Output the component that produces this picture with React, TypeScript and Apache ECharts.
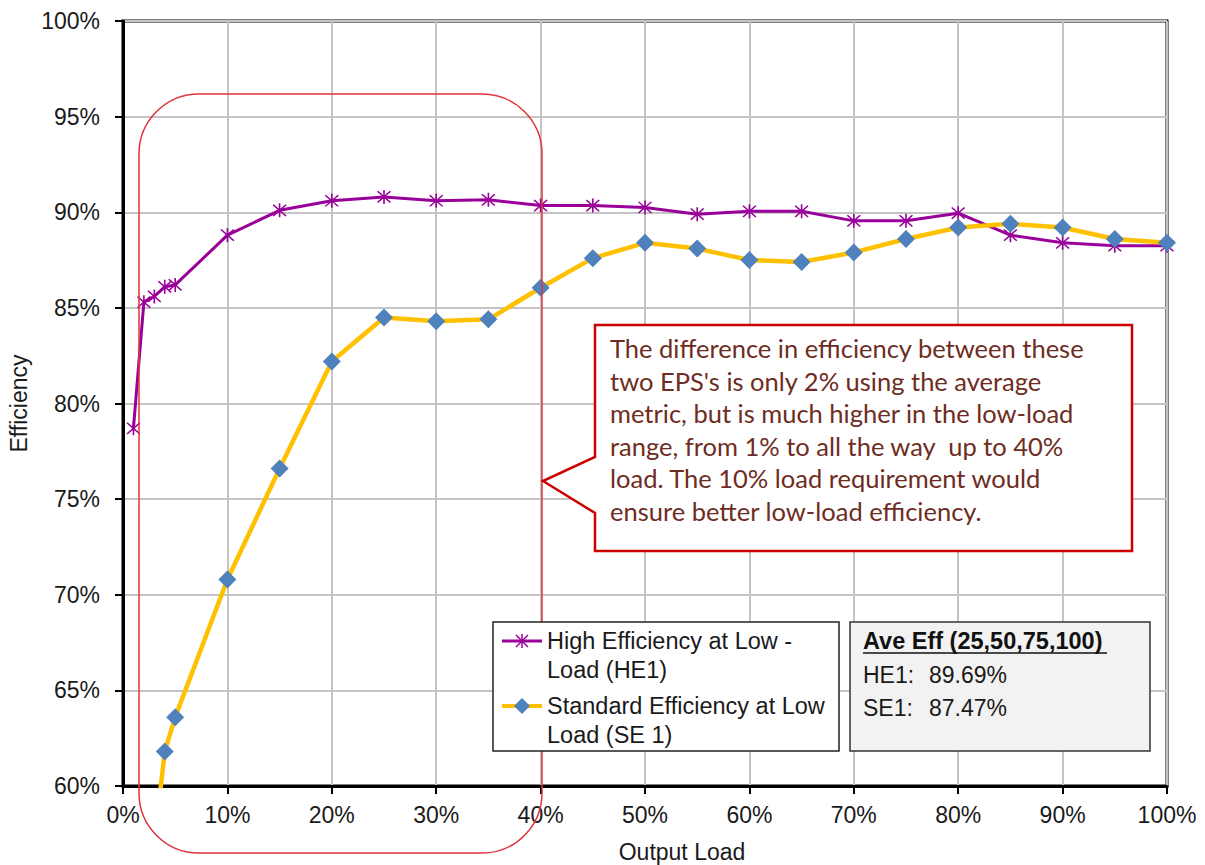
import React, { useEffect, useRef } from "react";
import * as echarts from "echarts";

const heLoad = [1, 2, 3, 4, 5, 10, 15, 20, 25, 30, 35, 40, 45, 50, 55, 60, 65, 70, 75, 80, 85, 90, 95, 100];
const heEff = [78.7, 85.3, 85.6, 86.1, 86.2, 88.8, 90.1, 90.6, 90.8, 90.6, 90.65, 90.35, 90.35, 90.25, 89.9, 90.05, 90.05, 89.55, 89.55, 89.95, 88.8, 88.4, 88.25, 88.25];
const seLoad = [3, 4, 5, 10, 15, 20, 25, 30, 35, 40, 45, 50, 55, 60, 65, 70, 75, 80, 85, 90, 95, 100];
const seEff = [57.0, 61.8, 63.6, 70.8, 76.6, 82.2, 84.5, 84.3, 84.4, 86.05, 87.6, 88.4, 88.1, 87.5, 87.4, 87.9, 88.6, 89.2, 89.4, 89.2, 88.6, 88.4];

const seriesNames = ["High Efficiency at Low-Load (HE1)", "Standard Efficiency at Low Load (SE 1)"];
const legendLines = [
  ["High Efficiency at Low -", "Load (HE1)"],
  ["Standard Efficiency at Low", "Load (SE 1)"],
];
const avgTitle = "Ave Eff (25,50,75,100)";
const avgLabels = ["HE1:", "SE1:"];
const avgValues = ["89.69%", "87.47%"];
const noteLines = [
  "The difference in efficiency between these",
  "two EPS's is only 2% using the average",
  "metric, but is much higher in the low-load",
  "range, from 1% to all the way  up to 40%",
  "load. The 10% load requirement would",
  "ensure better low-load efficiency.",
];

const HE_COLOR = "#990099";
const SE_LINE = "#FFC000";
const SE_MARK = "#4F81BD";
const FONT = "'Liberation Sans', Arial, sans-serif";
const TXT = "#1a1a1a";

const ASTERISK =
  "path://M9,0 L11,0 L11,20 L9,20 Z M1.3,2.7 L2.7,1.3 L18.7,17.3 L17.3,18.7 Z M17.3,1.3 L18.7,2.7 L2.7,18.7 L1.3,17.3 Z";

export default function App() {
  const ref = useRef<HTMLDivElement>(null);
  useEffect(() => {
    if (!ref.current) return;
    const chart = echarts.init(ref.current, undefined, { renderer: "svg" });
    const hePts = heLoad.map((x, i) => [x, heEff[i]]);
    const sePts = seLoad.map((x, i) => [x, seEff[i]]);

    const legendX = 493, legendY = 622;
    const legendRowY = [641, 706];
    const legendGraphics: any[] = [
      { type: "rect", shape: { x: legendX, y: legendY, width: 346, height: 129 }, style: { fill: "#fff", stroke: "#222", lineWidth: 1.5 }, z: 100 },
      { type: "line", shape: { x1: 502, y1: legendRowY[0], x2: 542, y2: legendRowY[0] }, style: { stroke: HE_COLOR, lineWidth: 3 }, z: 101 },
      { type: "line", shape: { x1: 516, y1: legendRowY[0] - 6, x2: 528, y2: legendRowY[0] + 6 }, style: { stroke: HE_COLOR, lineWidth: 1.5 }, z: 102 },
      { type: "line", shape: { x1: 528, y1: legendRowY[0] - 6, x2: 516, y2: legendRowY[0] + 6 }, style: { stroke: HE_COLOR, lineWidth: 1.5 }, z: 102 },
      { type: "line", shape: { x1: 522, y1: legendRowY[0] - 7, x2: 522, y2: legendRowY[0] + 7 }, style: { stroke: HE_COLOR, lineWidth: 1.5 }, z: 102 },
      { type: "line", shape: { x1: 502, y1: legendRowY[1], x2: 542, y2: legendRowY[1] }, style: { stroke: SE_LINE, lineWidth: 4 }, z: 101 },
      { type: "polygon", shape: { points: [[522, legendRowY[1] - 8], [530, legendRowY[1]], [522, legendRowY[1] + 8], [514, legendRowY[1]]] }, style: { fill: SE_MARK }, z: 102 },
    ];
    legendLines.forEach((lines, i) => {
      legendGraphics.push({
        type: "text",
        x: 547,
        y: legendRowY[i] - 15,
        z: 102,
        style: { text: lines.join("\n"), fontFamily: FONT, fontSize: 23.5, lineHeight: 29, fill: TXT },
      });
    });

    const avgGraphics: any[] = [
      { type: "rect", shape: { x: 850, y: 622, width: 300, height: 129 }, style: { fill: "#f2f2f2", stroke: "#333", lineWidth: 1.5 }, z: 100 },
      { type: "text", x: 863, y: 629, z: 101, style: { text: avgTitle, fontFamily: FONT, fontSize: 23.5, fontWeight: "bold", fill: "#111" } },
      { type: "line", shape: { x1: 863, y1: 653, x2: 1107, y2: 653 }, style: { stroke: "#111", lineWidth: 1.5 }, z: 101 },
    ];
    avgLabels.forEach((lab, i) => {
      avgGraphics.push({ type: "text", x: 863, y: 663 + i * 33, z: 101, style: { text: lab, fontFamily: FONT, fontSize: 23, fill: TXT } });
      avgGraphics.push({ type: "text", x: 929, y: 663 + i * 33, z: 101, style: { text: avgValues[i], fontFamily: FONT, fontSize: 23, fill: TXT } });
    });

    const option: any = {
      animation: false,
      backgroundColor: "#fff",
      grid: {
        left: 123, right: 38, top: 21, bottom: 79,
        outerBoundsMode: "none",
        containLabel: false,
        show: true, borderColor: "#000", borderWidth: 3, backgroundColor: "#fff",
      },
      xAxis: {
        type: "value",
        min: 0,
        max: 100,
        interval: 10,
        name: "Output Load",
        nameLocation: "middle",
        nameGap: 54,
        nameTextStyle: { fontFamily: FONT, fontSize: 23, color: TXT, padding: [0, 0, 0, 74] },
        axisLine: { onZero: false, lineStyle: { color: "#000", width: 3 } },
        axisTick: { show: true, length: 8, lineStyle: { color: "#000", width: 2 } },
        axisLabel: { formatter: "{value}%", fontFamily: FONT, fontSize: 23, color: TXT, margin: 17 },
        splitLine: { show: true, lineStyle: { color: "#c4c4c4", width: 2 } },
      },
      yAxis: {
        type: "value",
        min: 60,
        max: 100,
        interval: 5,
        name: "Efficiency",
        nameLocation: "middle",
        nameGap: 89,
        nameTextStyle: { fontFamily: FONT, fontSize: 23, color: TXT },
        axisLine: { lineStyle: { color: "#000", width: 3 } },
        axisTick: { show: true, length: 8, lineStyle: { color: "#000", width: 2 } },
        axisLabel: { formatter: "{value}%", fontFamily: FONT, fontSize: 23, color: TXT, margin: 23 },
        splitLine: { show: true, lineStyle: { color: "#c4c4c4", width: 2 } },
      },
      series: [
        {
          name: seriesNames[0],
          type: "line",
          data: hePts,
          symbol: ASTERISK,
          symbolSize: 14,
          itemStyle: { color: HE_COLOR },
          lineStyle: { color: HE_COLOR, width: 3 },
          z: 3,
        },
        {
          name: seriesNames[1],
          type: "line",
          data: sePts,
          symbol: "diamond",
          symbolSize: 18,
          itemStyle: { color: SE_MARK },
          lineStyle: { color: SE_LINE, width: 4.5 },
          clip: true,
          z: 4,
        },
      ],
      graphic: [
        {
          type: "rect",
          shape: { x: 139, y: 94, width: 403, height: 759, r: 60 },
          style: { fill: "none", stroke: "#e0353c", lineWidth: 1.5 },
          z: 50,
        },
        {
          type: "polygon",
          shape: { points: [[595, 325], [1132, 325], [1132, 551], [595, 551], [595, 513], [543, 481], [595, 457]] },
          style: { fill: "#fff", stroke: "#cc0000", lineWidth: 2.5 },
          z: 60,
        },
        {
          type: "text",
          x: 610,
          y: 332,
          z: 61,
          style: { text: noteLines.join("\n"), fontFamily: "Lato, 'Noto Sans', sans-serif", fontSize: 25.5, lineHeight: 32.5, fill: "#6e2c22" },
        },
        ...legendGraphics,
        ...avgGraphics,
      ],
    };
    chart.setOption(option);
    return () => chart.dispose();
  }, []);
  return <div ref={ref} style={{ position: "absolute", left: 0, top: 0, width: 1205, height: 865 }} />;
}
